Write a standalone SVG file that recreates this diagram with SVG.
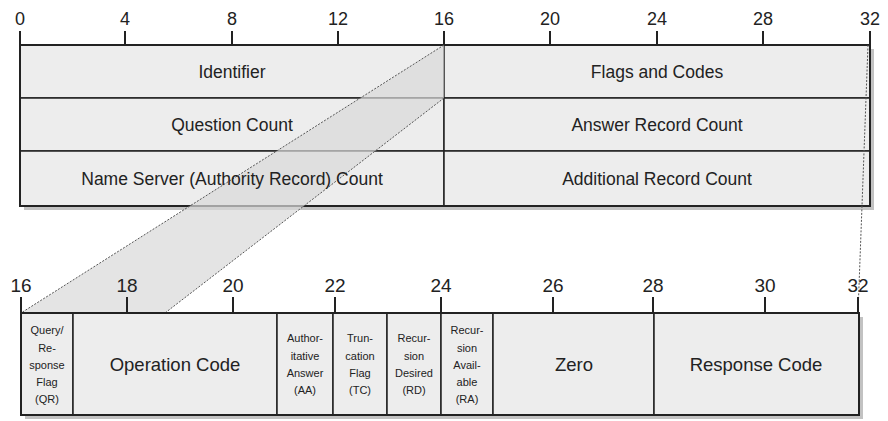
<svg xmlns="http://www.w3.org/2000/svg" width="888" height="421" viewBox="0 0 888 421">
<style>
.cell{fill:#ededed;stroke:#222;stroke-width:1.5}
.shadow{fill:#9a9a9a;opacity:0.6}
.tick{stroke:#222;stroke-width:2}
.lbl{font-family:"Liberation Sans",Arial,sans-serif;fill:#222;text-anchor:middle}
.ruler{font-size:18px}
.ruler2{font-size:19px}
.big{font-size:17.5px}
.mid{font-size:18.5px}
.sm{font-size:11px}
.band{fill:#d8d8d8;opacity:0.7}
.dash{stroke:#555;stroke-width:1;stroke-dasharray:2 1.5;fill:none}
</style>
<rect width="888" height="421" fill="#fff"/>
<!-- top ruler -->
<g id="ruler-top">
<line class="tick" x1="20" y1="45" x2="870" y2="45"/>
<line class="tick" x1="20" y1="31" x2="20" y2="45"/>
<line class="tick" x1="125" y1="31" x2="125" y2="45"/>
<line class="tick" x1="232" y1="31" x2="232" y2="45"/>
<line class="tick" x1="338" y1="31" x2="338" y2="45"/>
<line class="tick" x1="444" y1="31" x2="444" y2="45"/>
<line class="tick" x1="550" y1="31" x2="550" y2="45"/>
<line class="tick" x1="657" y1="31" x2="657" y2="45"/>
<line class="tick" x1="763" y1="31" x2="763" y2="45"/>
<line class="tick" x1="870" y1="31" x2="870" y2="45"/>
<text class="lbl ruler" x="20" y="25">0</text>
<text class="lbl ruler" x="125" y="25">4</text>
<text class="lbl ruler" x="232" y="25">8</text>
<text class="lbl ruler" x="338" y="25">12</text>
<text class="lbl ruler" x="444" y="25">16</text>
<text class="lbl ruler" x="550" y="25">20</text>
<text class="lbl ruler" x="657" y="25">24</text>
<text class="lbl ruler" x="763" y="25">28</text>
<text class="lbl ruler" x="870" y="25">32</text>
</g>
<!-- top table -->
<rect class="shadow" x="24" y="49" width="850" height="161"/>
<g id="identifier"><rect class="cell" x="20" y="45" width="424" height="53"/></g>
<g id="flags-and-codes"><rect class="cell" x="444" y="45" width="426" height="53"/></g>
<g id="question-count"><rect class="cell" x="20" y="98" width="424" height="53"/></g>
<g id="answer-record-count"><rect class="cell" x="444" y="98" width="426" height="53"/></g>
<g id="name-server-count"><rect class="cell" x="20" y="151" width="424" height="55"/></g>
<g id="additional-record-count"><rect class="cell" x="444" y="151" width="426" height="55"/></g>
<rect x="20" y="45" width="850" height="161" fill="none" stroke="#222" stroke-width="2"/>
<!-- bottom table -->
<rect class="shadow" x="25" y="317" width="838" height="102"/>
<g id="qr"><rect class="cell" x="21" y="313" width="52" height="102"/>
<text class="lbl sm" x="47" y="334">Query/</text>
<text class="lbl sm" x="47" y="352">Re-</text>
<text class="lbl sm" x="47" y="369">sponse</text>
<text class="lbl sm" x="47" y="386">Flag</text>
<text class="lbl sm" x="47" y="403">(QR)</text></g>
<g id="opcode"><rect class="cell" x="73" y="313" width="204" height="102"/>
<text class="lbl mid" x="175" y="371">Operation Code</text></g>
<g id="aa"><rect class="cell" x="277" y="313" width="56" height="102"/>
<text class="lbl sm" x="305" y="342">Author-</text>
<text class="lbl sm" x="305" y="360">itative</text>
<text class="lbl sm" x="305" y="377">Answer</text>
<text class="lbl sm" x="305" y="394">(AA)</text></g>
<g id="tc"><rect class="cell" x="333" y="313" width="54" height="102"/>
<text class="lbl sm" x="360" y="342">Trun-</text>
<text class="lbl sm" x="360" y="360">cation</text>
<text class="lbl sm" x="360" y="377">Flag</text>
<text class="lbl sm" x="360" y="394">(TC)</text></g>
<g id="rd"><rect class="cell" x="387" y="313" width="54" height="102"/>
<text class="lbl sm" x="414" y="342">Recur-</text>
<text class="lbl sm" x="414" y="360">sion</text>
<text class="lbl sm" x="414" y="377">Desired</text>
<text class="lbl sm" x="414" y="394">(RD)</text></g>
<g id="ra"><rect class="cell" x="441" y="313" width="52" height="102"/>
<text class="lbl sm" x="467" y="334">Recur-</text>
<text class="lbl sm" x="467" y="352">sion</text>
<text class="lbl sm" x="467" y="369">Avail-</text>
<text class="lbl sm" x="467" y="386">able</text>
<text class="lbl sm" x="467" y="403">(RA)</text></g>
<g id="zero"><rect class="cell" x="493" y="313" width="161" height="102"/>
<text class="lbl mid" x="574" y="371">Zero</text></g>
<g id="rcode"><rect class="cell" x="654" y="313" width="205" height="102"/>
<text class="lbl mid" x="756" y="371">Response Code</text></g>
<rect x="21" y="313" width="838" height="102" fill="none" stroke="#222" stroke-width="2"/>
<!-- projection -->
<g id="connectors">
<polygon class="band" points="444,45 444,98 165,313 21,313"/>
<line class="dash" x1="444" y1="45" x2="21" y2="313"/>
<line class="dash" x1="444" y1="98" x2="165" y2="313"/>
<line class="dash" x1="868" y1="45" x2="858" y2="313"/>
</g>
<!-- bottom ruler -->
<g id="ruler-bottom">
<line class="tick" x1="21" y1="313" x2="858" y2="313"/>
<line class="tick" x1="21" y1="297" x2="21" y2="313"/>
<line class="tick" x1="127" y1="297" x2="127" y2="313"/>
<line class="tick" x1="233" y1="297" x2="233" y2="313"/>
<line class="tick" x1="335" y1="297" x2="335" y2="313"/>
<line class="tick" x1="441" y1="297" x2="441" y2="313"/>
<line class="tick" x1="553" y1="297" x2="553" y2="313"/>
<line class="tick" x1="653" y1="297" x2="653" y2="313"/>
<line class="tick" x1="765" y1="297" x2="765" y2="313"/>
<line class="tick" x1="858" y1="297" x2="858" y2="313"/>
<text class="lbl ruler2" x="21" y="292">16</text>
<text class="lbl ruler2" x="127" y="292">18</text>
<text class="lbl ruler2" x="233" y="292">20</text>
<text class="lbl ruler2" x="335" y="292">22</text>
<text class="lbl ruler2" x="441" y="292">24</text>
<text class="lbl ruler2" x="553" y="292">26</text>
<text class="lbl ruler2" x="653" y="292">28</text>
<text class="lbl ruler2" x="765" y="292">30</text>
<text class="lbl ruler2" x="858" y="292">32</text>
</g>
<!-- top texts -->
<g id="top-labels">
<text class="lbl big" x="232" y="78">Identifier</text>
<text class="lbl big" x="657" y="78">Flags and Codes</text>
<text class="lbl big" x="232" y="131">Question Count</text>
<text class="lbl big" x="657" y="131">Answer Record Count</text>
<text class="lbl big" x="232" y="185">Name Server (Authority Record) Count</text>
<text class="lbl big" x="657" y="185">Additional Record Count</text>
</g>
</svg>
